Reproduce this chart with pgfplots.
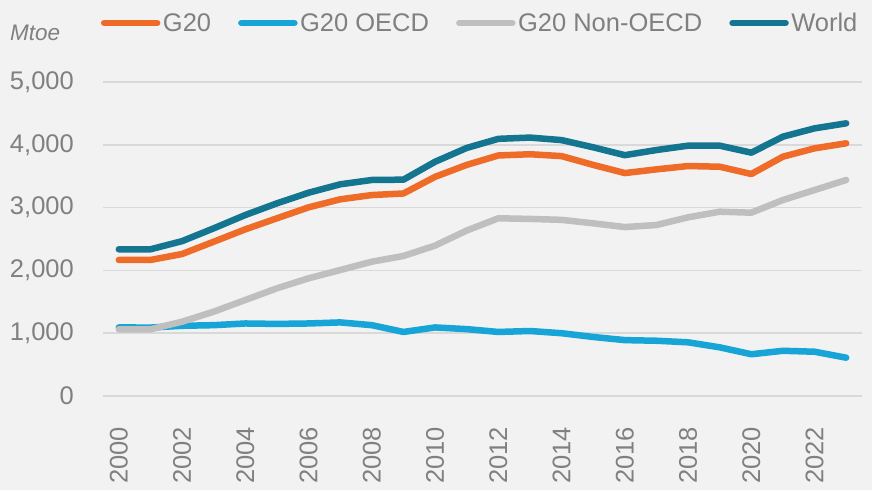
\documentclass[border=0pt]{standalone}
\usepackage{fontspec}
\setmainfont{Liberation Sans}
\usepackage{pgfplots}
\pgfplotsset{compat=1.18}
\usepackage{pgfplotstable}

\definecolor{bg}{HTML}{F2F2F2}
\definecolor{gridc}{HTML}{D9D9D9}
\definecolor{txt}{HTML}{808080}
\definecolor{gtwenty}{HTML}{EF6B28}
\definecolor{oecd}{HTML}{17A4D6}
\definecolor{nonoecd}{HTML}{BFBFBF}
\definecolor{world}{HTML}{13758F}

% Mtoe
\pgfplotstableread{
year g20  oecd nonoecd world
2000 2166 1092 1062 2336
2001 2166 1090 1062 2336
2002 2261 1118 1183 2466
2003 2457 1128 1343 2670
2004 2654 1155 1529 2882
2005 2830 1148 1715 3068
2006 3004 1155 1874 3237
2007 3132 1172 2006 3371
2008 3200 1128 2139 3440
2009 3225 1020 2230 3445
2010 3490 1092 2395 3730
2011 3680 1065 2635 3950
2012 3830 1020 2830 4095
2013 3850 1035 2820 4115
2014 3820 1000 2805 4075
2015 3680  940 2750 3960
2016 3550  890 2690 3835
2017 3609  880 2723 3917
2018 3662  855 2845 3986
2019 3651  775 2935 3986
2020 3535  665 2919 3875
2021 3811  720 3121 4130
2022 3944  705 3280 4262
2023 4024  610 3440 4342
}\energy

\begin{document}
\begin{tikzpicture}
\fill[bg] (0,0) rectangle (872pt,-490pt);
\begin{axis}[
    at={(103pt,-396pt)}, anchor=south west,
    scale only axis,
    width=759pt, height=314pt,
    xmin=1999.5, xmax=2023.5,
    ymin=0, ymax=5000,
    axis line style={draw=none},
    major tick length=0pt,
    xtick={2000,2002,...,2022},
    ytick={0,1000,...,5000},
    ymajorgrids,
    grid style={line width=1.5pt, gridc},
    font=\fontsize{25.5}{30}\selectfont,
    /pgf/number format/assume math mode=true,
    xticklabel style={/pgf/number format/1000 sep={}, rotate=90, anchor=east,
        inner sep=0pt, xshift=-31pt, text=txt},
    yticklabel style={/pgf/number format/1000 sep={,}, anchor=east,
        inner sep=0pt, xshift=-29pt, text=txt},
    ylabel={\fontsize{22.5}{26}\selectfont\itshape Mtoe},
    ylabel style={rotate=-90, at={(axis description cs:-0.1225,1.156)},
        anchor=west, inner sep=0pt, text=txt},
    every axis plot/.append style={line width=6.5pt, line join=round, line cap=round},
    legend columns=4,
    legend style={at={(axis description cs:-0.003,1.188)}, anchor=west,
        draw=none, fill=none, inner sep=0pt, text=txt,
        /tikz/every odd column/.append style={column sep=2.5pt},
        /tikz/every even column/.append style={column sep=27pt},
        nodes={inner sep=0pt}},
    legend image code/.code={\draw[#1, line cap=round] (0pt,0pt) -- (53pt,0pt);},
]
\addlegendimage{line width=6.5pt, color=gtwenty}
\addlegendentry{G20}
\addlegendimage{line width=6.5pt, color=oecd}
\addlegendentry{G20 OECD}
\addlegendimage{line width=6.5pt, color=nonoecd}
\addlegendentry{G20 Non-OECD}
\addlegendimage{line width=6.5pt, color=world}
\addlegendentry{World}
\addplot[color=oecd, forget plot] table[x=year, y=oecd] {\energy};
\addplot[color=nonoecd, forget plot] table[x=year, y=nonoecd] {\energy};
\addplot[color=gtwenty, forget plot] table[x=year, y=g20] {\energy};
\addplot[color=world, forget plot] table[x=year, y=world] {\energy};
\end{axis}
\pgfresetboundingbox
\path[use as bounding box] (0,0) rectangle (872pt,-490pt);
\end{tikzpicture}
\end{document}
